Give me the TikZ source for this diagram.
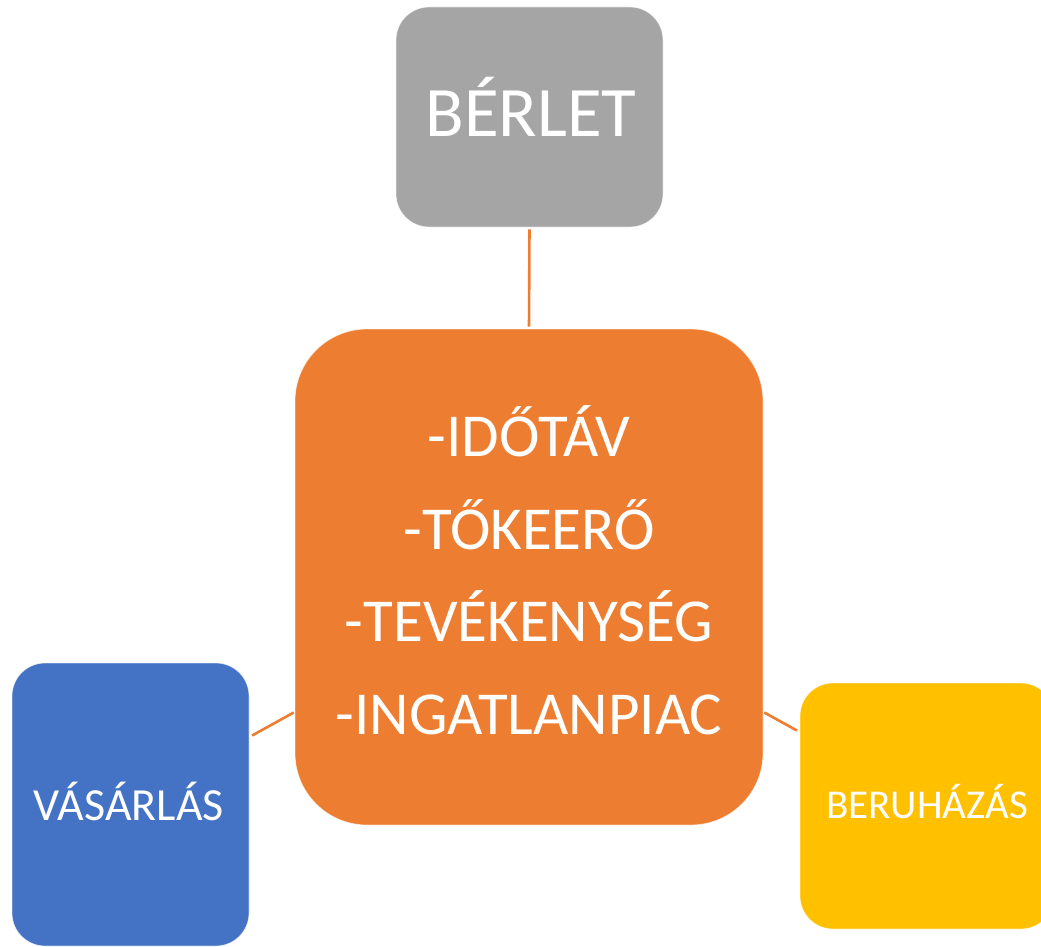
\documentclass[tikz,border=0pt]{standalone}
\usepackage{fontspec}
\setmainfont{Carlito}
\definecolor{cgray}{HTML}{A5A5A5}
\definecolor{corange}{HTML}{ED7D31}
\definecolor{cblue}{HTML}{4472C4}
\definecolor{cyellow}{HTML}{FFC000}
\begin{document}
\begin{tikzpicture}[x=1pt,y=-1pt,
  box/.style={rectangle, draw=white, draw opacity=0.6, line width=0.8pt, inner sep=0pt},
  conn/.style={draw=corange, line width=2.6pt},
  lbl/.style={text=white, inner sep=0pt, anchor=base}]
\useasboundingbox (0,0) rectangle (1041,947);
\clip (0,0) rectangle (1041,947);
% boxes
\node[box, fill=cgray, minimum width=267pt, minimum height=220pt, rounded corners=33pt] (g) at (529.5,117) {};
\node[box, fill=corange, minimum width=468pt, minimum height=496pt, rounded corners=72pt] (c) at (529,577) {};
\node[box, fill=cblue, minimum width=237pt, minimum height=283pt, rounded corners=33pt] (b) at (130.5,804.5) {};
\node[box, fill=cyellow, minimum width=254pt, minimum height=246pt, rounded corners=33pt] (y) at (927,806) {};
% connectors
\draw[conn, shorten <=2pt, shorten >=2pt] (g.south) -- (c.north);
\draw[conn, shorten <=3pt, shorten >=1pt] ([yshift=67.5pt]b.east) -- ([yshift=-135pt]c.west);
\draw[conn, shorten <=1pt, shorten >=3pt] ([yshift=-135pt]c.east) -- ([yshift=74pt]y.west);
% labels
\node[lbl, font=\fontsize{71}{80}\selectfont] (gt) at (531,137) {BÉRLET};
\node[lbl, font=\fontsize{61}{72}\selectfont] (c1) at (529,456) {-IDŐTÁV};
\node[lbl, font=\fontsize{61}{72}\selectfont] (c2) at (529,549) {-TŐKEERŐ};
\node[lbl, font=\fontsize{61}{72}\selectfont] (c3) at (529,641) {-TEVÉKENYSÉG};
\node[lbl, font=\fontsize{61}{72}\selectfont] (c4) at (529,734) {-INGATLANPIAC};
\node[lbl, font=\fontsize{46}{54}\selectfont] (bt) at (129,820) {VÁSÁRLÁS};
\node[lbl, font=\fontsize{41}{50}\selectfont] (yt) at (927,818) {BERUHÁZÁS};
\end{tikzpicture}
\end{document}
